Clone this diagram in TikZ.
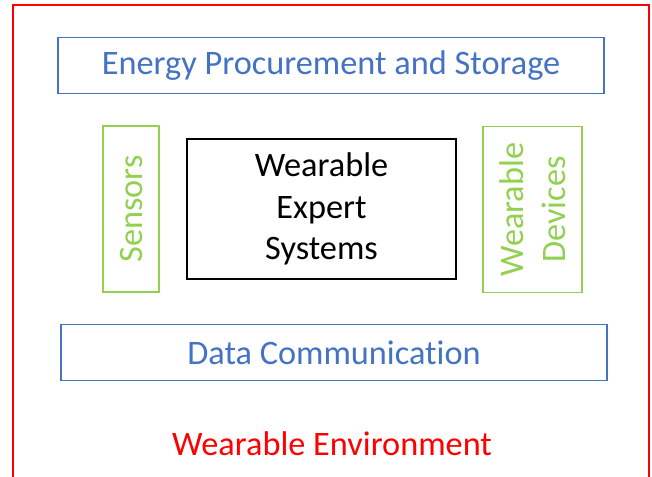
\documentclass[tikz,border=0pt]{standalone}
\usepackage{fontspec}
\setmainfont{Carlito}[Ligatures={NoCommon}]
\usetikzlibrary{positioning}
\definecolor{boxblue}{RGB}{68,114,196}
\definecolor{boxgreen}{RGB}{146,208,80}
\tikzset{
    big text/.style={font=\fontsize{34.3}{41.5}\selectfont},
    blue box/.style={draw=boxblue, text=boxblue, line width=1.2pt, big text,
        minimum width=546pt, minimum height=56pt, inner sep=0pt},
    green box/.style={draw=boxgreen, text=boxgreen, line width=1.2pt, big text,
        rotate=90, align=center, inner sep=0pt, minimum width=166pt}
}

\begin{document}
\begin{tikzpicture}[x=1pt,y=-1pt]
\tikzstyle{core}=[draw=black, line width=1.2pt, big text, align=center,
    minimum width=269pt, minimum height=140pt, inner sep=0pt]

\useasboundingbox (0,0) rectangle (652,476);
\draw[red, line width=1.2pt] (13,5) rectangle (649,500);

\node[blue box] (energy) at (331,65.5) {Energy Procurement and Storage};
\node[green box, minimum height=56pt] (sensors) at (131,209) {Sensors};
\node[core] (expert) at (321.5,209) {Wearable\\Expert\\Systems};
\node[green box, minimum height=99pt] (devices) at (532.5,209.5) {Wearable\\Devices};
\node[blue box] (data) at (334,352.5) {Data Communication};

\node[big text, text=red, anchor=base] (env) at (332,455) {Wearable Environment};
\end{tikzpicture}
\end{document}
